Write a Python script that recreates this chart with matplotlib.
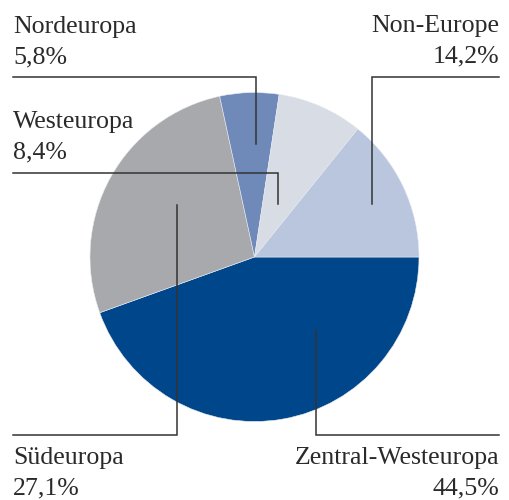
import matplotlib
matplotlib.use('Agg')
import matplotlib.pyplot as plt

# Regional distribution (percent), clockwise from 3 o'clock
regions = ['Zentral-Westeuropa', 'Südeuropa', 'Nordeuropa', 'Westeuropa', 'Non-Europe']
shares = [44.5, 27.1, 5.8, 8.4, 14.2]
share_labels = ['44,5%', '27,1%', '5,8%', '8,4%', '14,2%']

colors = ['#00468b', '#a7a9ac', '#6f89b9', '#d7dce5', '#bac5de']

H = 500  # image height in px, used to flip y

fig = plt.figure(figsize=(5.1, 5.0), dpi=100)
ax = fig.add_axes([0, 0, 1, 1])

ax.pie(shares, colors=colors, startangle=0, counterclock=False,
       center=(254.5, H - 257), radius=164.5, frame=True,
       wedgeprops=dict(edgecolor='#e8ebf0', linewidth=0.4))
ax.set_xlim(0, 510)
ax.set_ylim(0, H)
ax.axis('off')

# label layout: (text x, name baseline y, ha, leader polyline in image px)
layout = {
    'Nordeuropa': (13, 33, 'left', [(13, 77), (256, 77), (256, 144)]),
    'Westeuropa': (13, 128, 'left', [(13, 173), (278, 173), (278, 204)]),
    'Non-Europe': (499, 32, 'right', [(499, 77), (372, 77), (372, 204)]),
    'Südeuropa': (13, 464, 'left', [(13, 435), (177, 435), (177, 205)]),
    'Zentral-Westeuropa': (499, 464, 'right', [(499, 435), (316, 435), (316, 330)]),
}

font = dict(family=['Liberation Serif', 'DejaVu Serif'], size=18.6, color='#2a2a2a')

for name, pct in zip(regions, share_labels):
    x, y, ha, pts = layout[name]
    ax.text(x, H - y, name, ha=ha, va='baseline', **font)
    ax.text(x, H - y - 30, pct, ha=ha, va='baseline', **font)
    xs = [p[0] for p in pts]
    ys = [H - p[1] for p in pts]
    ax.plot(xs, ys, color='#333333', linewidth=1.1, solid_joinstyle='miter')

fig.savefig('out.png', dpi=100)
